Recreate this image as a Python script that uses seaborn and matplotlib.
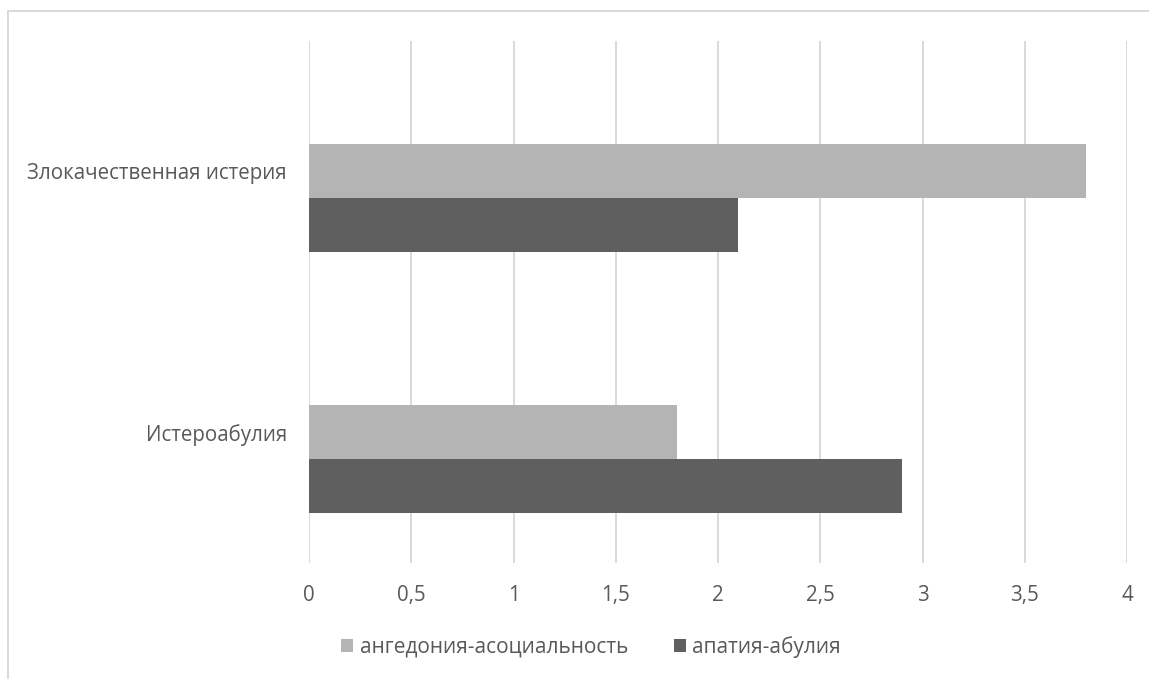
import matplotlib
matplotlib.use("Agg")
import matplotlib.pyplot as plt
from matplotlib.patches import Rectangle, Patch
from matplotlib.ticker import FuncFormatter
import seaborn as sns
import numpy as np
import pandas as pd

categories = ["Злокачественная истерия", "Истероабулия"]
series_names = ["ангедония-асоциальность", "апатия-абулия"]
anhedonia = [3.8, 1.8]
apathy = [2.1, 2.9]
x_ticks = [0, 0.5, 1, 1.5, 2, 2.5, 3, 3.5, 4]

colors = ["#b4b4b4", "#5f5f5f"]
text_color = "#595959"
grid_color = "#d9d9d9"
font_size = 14.8

# an empty series keeps its slot at the top of every group
empty_series = ""
df = pd.DataFrame({
    "category": categories * 3,
    "series": [empty_series] * 2 + [series_names[0]] * 2 + [series_names[1]] * 2,
    "value": [np.nan, np.nan] + anhedonia + apathy,
})

sns.set_theme(style="white")
plt.rcParams["font.family"] = ["Open Sans", "DejaVu Sans"]

W, H = 1149, 679
fig = plt.figure(figsize=(W / 100, H / 100), dpi=100)
ax = fig.add_axes([309 / W, 1 - 563 / H, (1127 - 309) / W, (563 - 40.5) / H])

sns.barplot(
    data=df, x="value", y="category", hue="series",
    order=categories, hue_order=[empty_series] + series_names,
    palette=["#ffffff"] + colors,
    orient="h", width=0.62, saturation=1, legend=False, ax=ax,
    linewidth=0,
)

ax.set_xlim(0, 4)
ax.set_ylim(1.5, -0.5)
ax.set_xticks(x_ticks)
ax.xaxis.set_major_formatter(FuncFormatter(lambda v, _: f"{v:g}".replace(".", ",")))
ax.set_xlabel("")
ax.set_ylabel("")
ax.grid(axis="x", color=grid_color, linewidth=1.4)
ax.grid(axis="y", visible=False)
ax.set_axisbelow(True)
for s in ax.spines.values():
    s.set_visible(False)
ax.tick_params(axis="both", length=0, labelsize=font_size, labelcolor=text_color)
ax.tick_params(axis="x", pad=16)
ax.tick_params(axis="y", pad=16)

# chart area frame
fig.add_artist(Rectangle((8 / W, -0.2), 1.2, 1.2 - 11 / H,
                         transform=fig.transFigure, fill=False,
                         edgecolor=grid_color, linewidth=1.4))

handles = [Patch(facecolor=c, edgecolor="none") for c in colors]
fig.legend(handles, series_names, loc="center", ncol=2,
           bbox_to_anchor=(591 / W, 1 - 647 / H), frameon=False,
           fontsize=15, labelcolor=text_color, handlelength=0.58,
           handleheight=0.58, handletextpad=0.3, columnspacing=2.2)

fig.savefig("out.png", dpi=100, facecolor="white")
